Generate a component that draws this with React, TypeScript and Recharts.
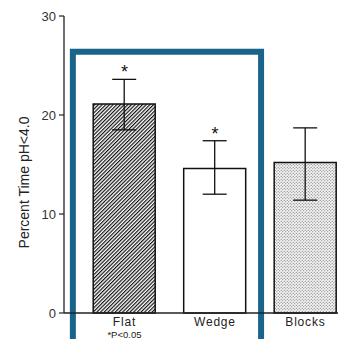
import React from 'react';
import {
  ComposedChart,
  Bar,
  Cell,
  ErrorBar,
  Scatter,
  XAxis,
  YAxis,
  ReferenceArea,
} from 'recharts';

const categories = ['Flat', 'Wedge', 'Blocks'];
const means = [21.1, 14.6, 15.2];
const errLow = [2.6, 2.6, 3.8];
const errHigh = [2.5, 2.8, 3.5];
const significant = [true, true, false];
const yTicks = [0, 10, 20, 30];

const data = categories.map((name, i) => ({
  x: i,
  name,
  value: means[i],
  err: [errLow[i], errHigh[i]],
}));

const sigData = categories
  .map((name, i) => ({ x: i, y: means[i] + errHigh[i] + 0.8, sig: significant[i] }))
  .filter((d) => d.sig);

const FILLS = ['url(#hatch)', '#ffffff', 'url(#dots)'];
const FONT = '"Liberation Sans", Arial, sans-serif';

const XTick = (props: any) => {
  const { x, y, payload } = props;
  const label = categories[payload.value];
  return (
    <g>
      <text x={x} y={y + 5} textAnchor="middle" fontSize={12} fontFamily={FONT} fill="#222" letterSpacing={0.8}>
        {label}
      </text>
      {payload.value === 0 && (
        <text x={x} y={y + 17} textAnchor="middle" fontSize={9.5} fontFamily={FONT} fill="#222">
          *P&lt;0.05
        </text>
      )}
    </g>
  );
};

const Star = (props: any) => {
  const { cx, cy } = props;
  return (
    <text x={cx} y={cy + 7} textAnchor="middle" fontSize={18} fontFamily={FONT} fill="#111">
      *
    </text>
  );
};

const App: React.FC = () => {
  return (
    <div style={{ position: 'absolute', left: 0, top: 0, background: '#fff' }}>
      <ComposedChart
        width={338}
        height={339}
        data={data}
        margin={{ top: 16, right: 0, bottom: 0, left: 0 }}
        style={{ overflow: 'visible' }}
      >
        <defs>
          <pattern id="hatch" width="2.6" height="2.6" patternUnits="userSpaceOnUse" patternTransform="rotate(45)">
            <rect width="2.6" height="2.6" fill="#fff" />
            <line x1="0.6" y1="0" x2="0.6" y2="2.6" stroke="#111" strokeWidth="1.2" />
          </pattern>
          <pattern id="dots" width="3" height="3" patternUnits="userSpaceOnUse">
            <rect width="3" height="3" fill="#f4f4f4" />
            <circle cx="0.75" cy="0.75" r="0.6" fill="#666" />
            <circle cx="2.25" cy="2.25" r="0.6" fill="#666" />
          </pattern>
        </defs>
        <XAxis
          dataKey="x"
          type="number"
          domain={[-0.668, 2.36]}
          ticks={[0, 1, 2]}
          tick={<XTick />}
          tickLine={false}
          height={26}
          axisLine={{ stroke: '#222', strokeWidth: 1.3 }}
          allowDataOverflow
        />
        <YAxis
          type="number"
          domain={[0, 30]}
          ticks={yTicks}
          width={64}
          tickSize={5}
          tickMargin={3}
          axisLine={{ stroke: '#222', strokeWidth: 1.3 }}
          tickLine={{ stroke: '#222', strokeWidth: 1.2 }}
          tick={{ fontSize: 13, fontFamily: FONT, fill: '#333' }}
          label={{
            value: 'Percent Time pH<4.0',
            angle: -90,
            position: 'insideLeft',
            offset: 24,
            dy: 18,
            style: { fontSize: 14, fontFamily: FONT, fill: '#222', textAnchor: 'middle' },
          }}
        />
        <Bar dataKey="value" barSize={62} stroke="#111" strokeWidth={1.5} isAnimationActive={false}>
          {data.map((d, i) => (
            <Cell key={`cell-${i}`} fill={FILLS[i]} />
          ))}
          <ErrorBar dataKey="err" width={12} stroke="#111" strokeWidth={1.3} direction="y" />
        </Bar>
        <Scatter data={sigData} dataKey="y" shape={<Star />} isAnimationActive={false} />
        <ReferenceArea
          x1={-0.57}
          x2={1.51}
          y1={-4}
          y2={26.4}
          ifOverflow="visible"
          fill="none"
          stroke="#1b6489"
          strokeWidth={6}
        />
      </ComposedChart>
    </div>
  );
};

export default App;
